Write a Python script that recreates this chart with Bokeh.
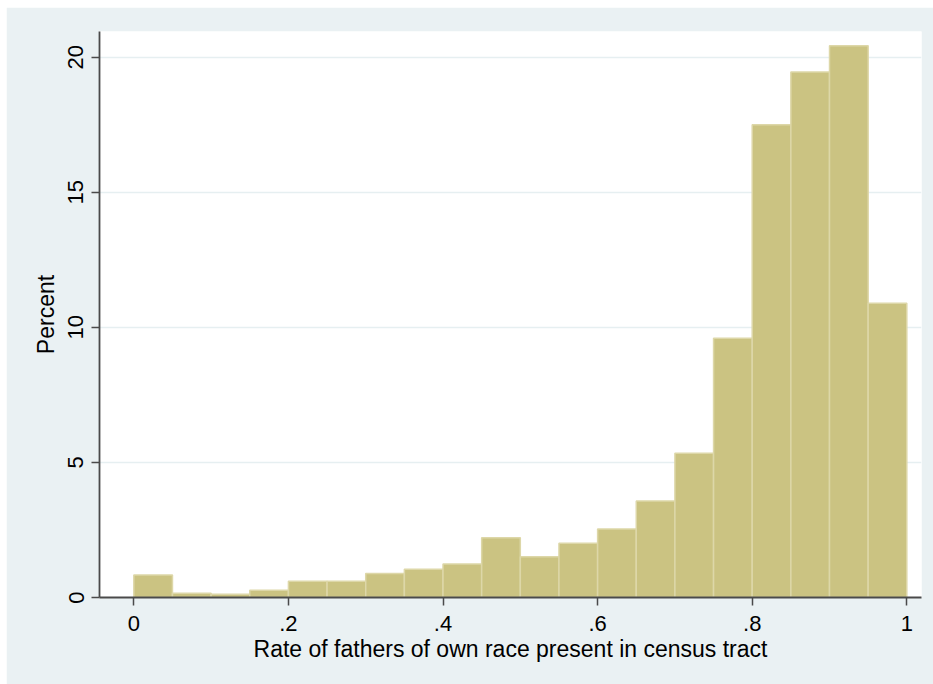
from bokeh.plotting import figure
from bokeh.models import Range1d, FixedTicker
from bokeh.embed import file_html
from bokeh.resources import INLINE

# Histogram bins (rate of fathers of own race present in census tract)
bin_edges = [0.0, 0.05, 0.10, 0.15, 0.20, 0.25, 0.30, 0.35, 0.40, 0.45, 0.50,
             0.55, 0.60, 0.65, 0.70, 0.75, 0.80, 0.85, 0.90, 0.95, 1.0]
percent = [0.83, 0.16, 0.12, 0.27, 0.60, 0.60, 0.89, 1.05, 1.24, 2.21,
           1.51, 2.01, 2.54, 3.57, 5.34, 9.60, 17.50, 19.45, 20.42, 10.89]

x_ticks = [0.0, 0.2, 0.4, 0.6, 0.8, 1.0]
x_tick_labels = ["0", ".2", ".4", ".6", ".8", "1"]
y_ticks = [0, 5, 10, 15, 20]
y_tick_labels = ["0", "5", "10", "15", "20"]

BG = "#EAF1F3"
FONT = "Liberation Sans"

p = figure(width=927, height=677, output_backend="svg", toolbar_location=None,
           x_range=Range1d(-0.0444, 1.019), y_range=Range1d(0, 20.95),
           min_border_left=93, min_border_right=12, min_border_top=24,
           min_border_bottom=87)
p.margin = (7, 0, 0, 6)
p.border_fill_color = BG
p.background_fill_color = "white"
p.outline_line_color = None

p.quad(left=bin_edges[:-1], right=bin_edges[1:], bottom=0, top=percent,
       fill_color="#CBC382", line_color="#DDD7A8", line_width=1.5)

# Axes
p.xaxis.ticker = FixedTicker(ticks=x_ticks)
p.xaxis.major_label_overrides = dict(zip(x_ticks, x_tick_labels))
p.yaxis.ticker = FixedTicker(ticks=y_ticks)
p.yaxis.major_label_overrides = dict(zip(y_ticks, y_tick_labels))
p.yaxis.major_label_orientation = "vertical"

p.xaxis.axis_label = "Rate of fathers of own race present in census tract"
p.yaxis.axis_label = "Percent"

for ax in (p.xaxis, p.yaxis):
    ax.axis_line_color = "#4A4A4A"
    ax.axis_line_width = 1.8
    ax.major_tick_line_color = "#4A4A4A"
    ax.major_tick_line_width = 1.5
    ax.major_tick_out = 8
    ax.major_tick_in = 0
    ax.minor_tick_line_color = None
    ax.major_label_text_font = FONT
    ax.major_label_text_font_size = "22px"
    ax.major_label_text_color = "black"
    ax.axis_label_text_font = FONT
    ax.axis_label_text_font_size = "23px"
    ax.axis_label_text_font_style = "normal"
    ax.axis_label_text_color = "black"

p.xaxis.major_label_standoff = 10
p.xaxis.axis_label_standoff = 2
p.yaxis.major_label_standoff = 8
p.yaxis.axis_label_standoff = 7

p.xgrid.grid_line_color = None
p.ygrid.ticker = FixedTicker(ticks=y_ticks)
p.ygrid.grid_line_color = "#E6EFF1"
p.ygrid.grid_line_width = 1.5

open("out.html", "w").write(file_html(p, INLINE))
